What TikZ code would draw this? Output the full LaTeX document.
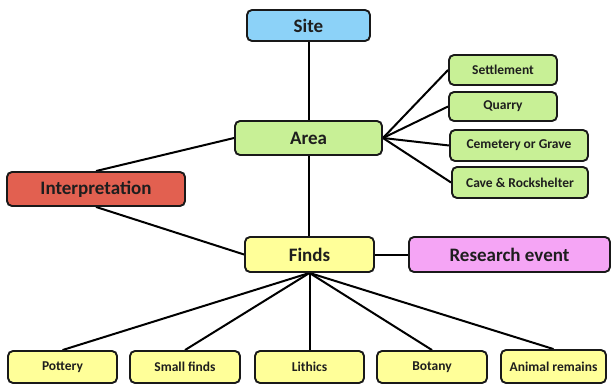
\documentclass[tikz,border=0pt]{standalone}
\usepackage{fontspec}
\setmainfont{Carlito}
\usetikzlibrary{backgrounds}
\definecolor{siteblue}{RGB}{140,210,248}
\definecolor{areagreen}{RGB}{200,240,150}
\definecolor{interpred}{RGB}{226,96,80}
\definecolor{findsyellow}{RGB}{255,255,153}
\definecolor{eventpink}{RGB}{245,165,245}
\definecolor{edge}{RGB}{25,25,25}
\definecolor{ink}{RGB}{30,30,30}
\tikzset{
  box/.style={draw=edge, line width=1.9pt, rounded corners=5pt, inner sep=0pt,
    font=\bfseries, text=ink},
  big/.style={box, font=\bfseries\fontsize{19}{19}\selectfont},
  mid/.style={box, font=\bfseries\fontsize{19}{19}\selectfont},
  small/.style={box, font=\bfseries\fontsize{13.5}{14}\selectfont},
  link/.style={draw=black, line width=2pt},
}
\begin{document}
\begin{tikzpicture}[x=1pt,y=-1pt]
\useasboundingbox (0,0) rectangle (611,385);
% top of the hierarchy
\node[big, fill=siteblue, minimum width=123pt, minimum height=31pt] (site) at (308.5,25.5) {Site};
\node[big, fill=areagreen, minimum width=147pt, minimum height=34pt] (area) at (308.5,138) {Area};
% area types
\node[small, fill=areagreen, minimum width=108pt, minimum height=30pt] (settle) at (503,70) {Settlement};
\node[small, fill=areagreen, minimum width=108pt, minimum height=29pt] (quarry) at (503,106.5) {Quarry};
\node[small, fill=areagreen, minimum width=138pt, minimum height=31pt] (cem) at (519,145.5) {Cemetery or Grave};
\node[small, fill=areagreen, minimum width=136pt, minimum height=31pt] (cave) at (520,182.5) {Cave \& Rockshelter};
% interpretation, finds and events
\node[mid, fill=interpred, minimum width=178pt, minimum height=34pt] (interp) at (96,189) {Interpretation};
\node[big, fill=findsyellow, minimum width=129pt, minimum height=35pt] (finds) at (309.5,254.5) {Finds};
\node[mid, fill=eventpink, minimum width=201pt, minimum height=35pt] (event) at (509.5,254.5) {Research event};
% find categories
\node[small, fill=findsyellow, minimum width=109pt, minimum height=32pt] (pottery) at (62.5,367) {Pottery};
\node[small, fill=findsyellow, minimum width=110pt, minimum height=32pt] (smallf) at (185,367) {Small finds};
\node[small, fill=findsyellow, minimum width=109pt, minimum height=32pt] (lithics) at (309.5,367) {Lithics};
\node[small, fill=findsyellow, minimum width=110pt, minimum height=32pt] (botany) at (432,367) {Botany};
\node[small, fill=findsyellow, minimum width=105pt, minimum height=33pt] (animal) at (553.5,366.5) {Animal remains};
% connectors behind the boxes
\begin{pgfonlayer}{background}
\draw[link] (site) -- (area);
\draw[link] (area.south) -- (area.south |- finds.north);
\draw[link] (finds) -- (event);
\foreach \t in {settle,quarry,cem,cave}
  \draw[link] (area.east) -- (\t.west);
\draw[link] (area.west) -- (interp.north);
\draw[link] (interp.south) -- (finds.west);
\foreach \t in {pottery,smallf,lithics,botany,animal}
  \draw[link] (finds.south) -- (\t.north);
\end{pgfonlayer}
\end{tikzpicture}
\end{document}
